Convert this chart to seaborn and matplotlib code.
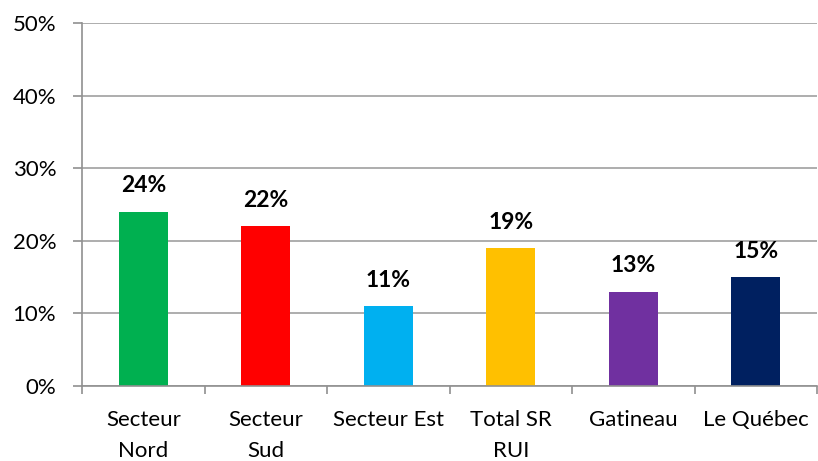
import pandas as pd
import matplotlib.pyplot as plt
import seaborn as sns
from matplotlib.ticker import FixedLocator, PercentFormatter

categories = ['Secteur\nNord', 'Secteur\nSud', 'Secteur Est', 'Total SR\nRUI', 'Gatineau', 'Le Québec']
values = [24, 22, 11, 19, 13, 15]
colors = ['#00B050', '#FF0000', '#00B0F0', '#FFC000', '#7030A0', '#002060']

df = pd.DataFrame({'cat': categories, 'val': values})

sns.set_style('white')
plt.rcParams['font.family'] = ['Lato', 'DejaVu Sans']
plt.rcParams['text.color'] = 'black'
plt.rcParams['xtick.labelcolor'] = 'black'
plt.rcParams['ytick.labelcolor'] = 'black'

fig = plt.figure(figsize=(8.18, 4.61), dpi=100)
ax = fig.add_axes([82 / 818, 1 - 386 / 461, (817 - 82) / 818, (386 - 23) / 461])

sns.barplot(data=df, x='cat', y='val', hue='cat', palette=colors, legend=False,
            width=0.4, saturation=1, linewidth=0, ax=ax)

ax.set_ylim(0, 50)
ax.set_xlim(-0.5, len(categories) - 0.5)
ax.set_yticks(range(0, 51, 10))
ax.yaxis.set_major_formatter(PercentFormatter(decimals=0))
ax.grid(axis='y', color='#A0A0A0', linewidth=1.2)
ax.set_axisbelow(True)

for s in ['top', 'right']:
    ax.spines[s].set_visible(False)
for s in ['left', 'bottom']:
    ax.spines[s].set_color('#909090')
    ax.spines[s].set_linewidth(1.2)

ax.tick_params(axis='y', length=6.5, width=1.2, color='#909090', labelcolor='black',
               labelsize=16, pad=12, left=True)
ax.tick_params(axis='x', which='major', length=0, labelcolor='black', labelsize=16, pad=17)
for lbl in ax.get_xticklabels():
    lbl.set_linespacing(1.7)
ax.xaxis.set_minor_locator(FixedLocator([i - 0.5 for i in range(len(categories) + 1)]))
ax.tick_params(axis='x', which='minor', length=6, width=1.2, color='#909090', bottom=True)
ax.tick_params(axis='y', which='minor', left=False)

ax.set_xlabel('')
ax.set_ylabel('')

for p in ax.patches:
    h = p.get_height()
    ax.annotate(f'{h:.0f}%', (p.get_x() + p.get_width() / 2, h),
                textcoords='offset points', xytext=(0, 11), ha='center', va='bottom',
                fontsize=16.5, fontweight='bold', color='black')

fig.savefig('out.png', dpi=100)
